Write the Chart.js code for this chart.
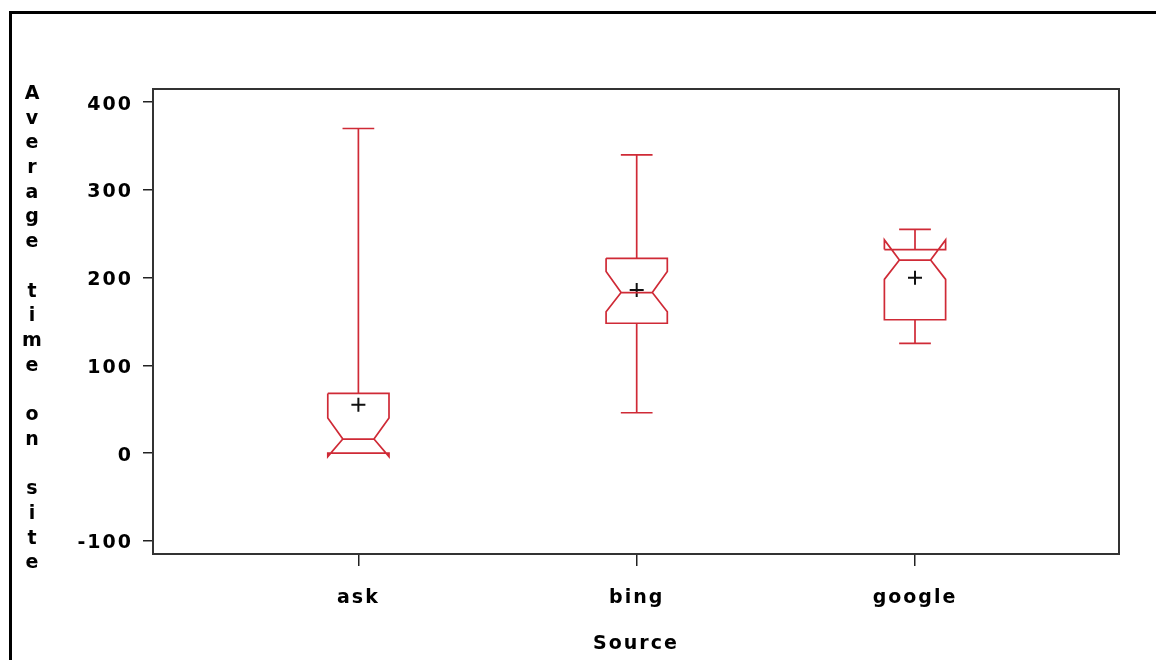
<!DOCTYPE html>
<html><head><meta charset="utf-8">
<script src="https://cdn.jsdelivr.net/npm/chart.js@4/dist/chart.umd.min.js"></script>
<style>html,body{margin:0;padding:0;background:#fff;overflow:hidden}#wrap{width:1156px;height:660px;position:relative}</style>
</head><body><div id="wrap"><canvas id="c" width="1156" height="660"></canvas></div>
<script>
// ---- data ----
const categories   = ['ask', 'bing', 'google'];
const minValues    = [0, 46, 125];
const q1Values     = [0, 148, 152];
const medianValues = [16, 183, 220];
const q3Values     = [68, 222, 232];
const maxValues    = [370, 340, 255];
const meanValues   = [55, 186, 200];
const notchLow     = [-4, 161, 198];
const notchHigh    = [40, 207, 243];
const yTicks       = [-100, 0, 100, 200, 300, 400];
const yTitle = 'Average time on site';
const xTitle = 'Source';

// ---- style ----
const RED = '#cf2a36';
const BOX_HALF = 0.11, NOTCH_IN = 0.054, CAP_HALF = 0.057;
const FONT = {family: "'DejaVu Sans', sans-serif", size: 19, weight: 'bold'};
const GAP = {x: null, y: null};

const boxDatasets = categories.map((c, i) => {
  const x = i + 1, h = BOX_HALF, n = NOTCH_IN, k = CAP_HALF;
  const q1 = q1Values[i], q3 = q3Values[i], md = medianValues[i];
  const nl = notchLow[i], nh = notchHigh[i], mn = minValues[i], mx = maxValues[i];
  const pts = [
    {x: x - h, y: q3}, {x: x + h, y: q3}, {x: x + h, y: nh}, {x: x + h - n, y: md},
    {x: x + h, y: nl}, {x: x + h, y: q1}, {x: x - h, y: q1}, {x: x - h, y: nl},
    {x: x - h + n, y: md}, {x: x - h, y: nh}, {x: x - h, y: q3}, GAP,
    {x: x - h + n, y: md}, {x: x + h - n, y: md}, GAP,
    {x: x, y: q3}, {x: x, y: mx}, GAP,
    {x: x - k, y: mx}, {x: x + k, y: mx}, GAP,
    {x: x, y: q1}, {x: x, y: mn}, GAP,
    {x: x - k, y: mn}, {x: x + k, y: mn}
  ];
  return {
    label: c, data: pts, showLine: true, spanGaps: false, borderColor: RED,
    borderWidth: 1.7, pointRadius: 0, pointHoverRadius: 0, fill: false, tension: 0
  };
});

const meanDataset = {
  label: 'mean', data: categories.map((c, i) => ({x: i + 1, y: meanValues[i]})),
  showLine: false, pointStyle: 'cross', pointRadius: 7, pointBorderWidth: 2,
  borderColor: '#111', backgroundColor: '#111'
};

const decor = {
  id: 'decor',
  beforeDraw(chart) {
    const ctx = chart.ctx;
    ctx.save();
    ctx.fillStyle = '#fff';
    ctx.fillRect(0, 0, chart.width, chart.height);
    ctx.fillStyle = '#000';
    ctx.fillRect(9, 11, 3, chart.height);
    ctx.fillRect(9, 11, chart.width, 3);
    ctx.restore();
    ctx.letterSpacing = '2px';
  },
  afterDraw(chart) {
    const ctx = chart.ctx, a = chart.chartArea;
    ctx.save();
    ctx.strokeStyle = '#333';
    ctx.lineWidth = 2;
    ctx.strokeRect(a.left, a.top, a.right - a.left, a.bottom - a.top);
    ctx.letterSpacing = '0px';
    ctx.fillStyle = '#000';
    ctx.font = 'bold 19px "DejaVu Sans", sans-serif';
    ctx.textAlign = 'center';
    ctx.textBaseline = 'middle';
    yTitle.split('').forEach((ch, j) => ctx.fillText(ch, 32, 94 + j * 24.7));
    ctx.restore();
  }
};

new Chart(document.getElementById('c'), {
  type: 'scatter',
  data: {datasets: [...boxDatasets, meanDataset]},
  options: {
    responsive: false, animation: false, events: [],
    layout: {padding: {top: 89, right: 37, left: 0, bottom: 0}},
    plugins: {legend: {display: false}, tooltip: {enabled: false}},
    scales: {
      x: {
        type: 'linear', min: 0.262, max: 3.733, position: 'bottom',
        afterBuildTicks: s => { s.ticks = categories.map((c, i) => ({value: i + 1})); },
        afterFit: s => { s.height = 106; },
        ticks: {callback: v => categories[Math.round(v) - 1], font: FONT, color: '#000', padding: 21, maxRotation: 0, autoSkip: false},
        grid: {drawOnChartArea: false, drawTicks: true, tickLength: 12, color: '#222', lineWidth: 1.5},
        border: {display: false},
        title: {display: true, text: xTitle, font: FONT, color: '#000', padding: {top: 0, bottom: 5}}
      },
      y: {
        type: 'linear', min: -115, max: 415,
        afterBuildTicks: s => { s.ticks = yTicks.map(v => ({value: v})); },
        afterFit: s => { s.width = 153; },
        ticks: {font: FONT, color: '#000', padding: 10, labelOffset: 2.5},
        grid: {drawOnChartArea: false, drawTicks: true, tickLength: 10, color: '#222', lineWidth: 1.5},
        border: {display: false},
        title: {display: false}
      }
    }
  },
  plugins: [decor]
});
</script></body></html>
